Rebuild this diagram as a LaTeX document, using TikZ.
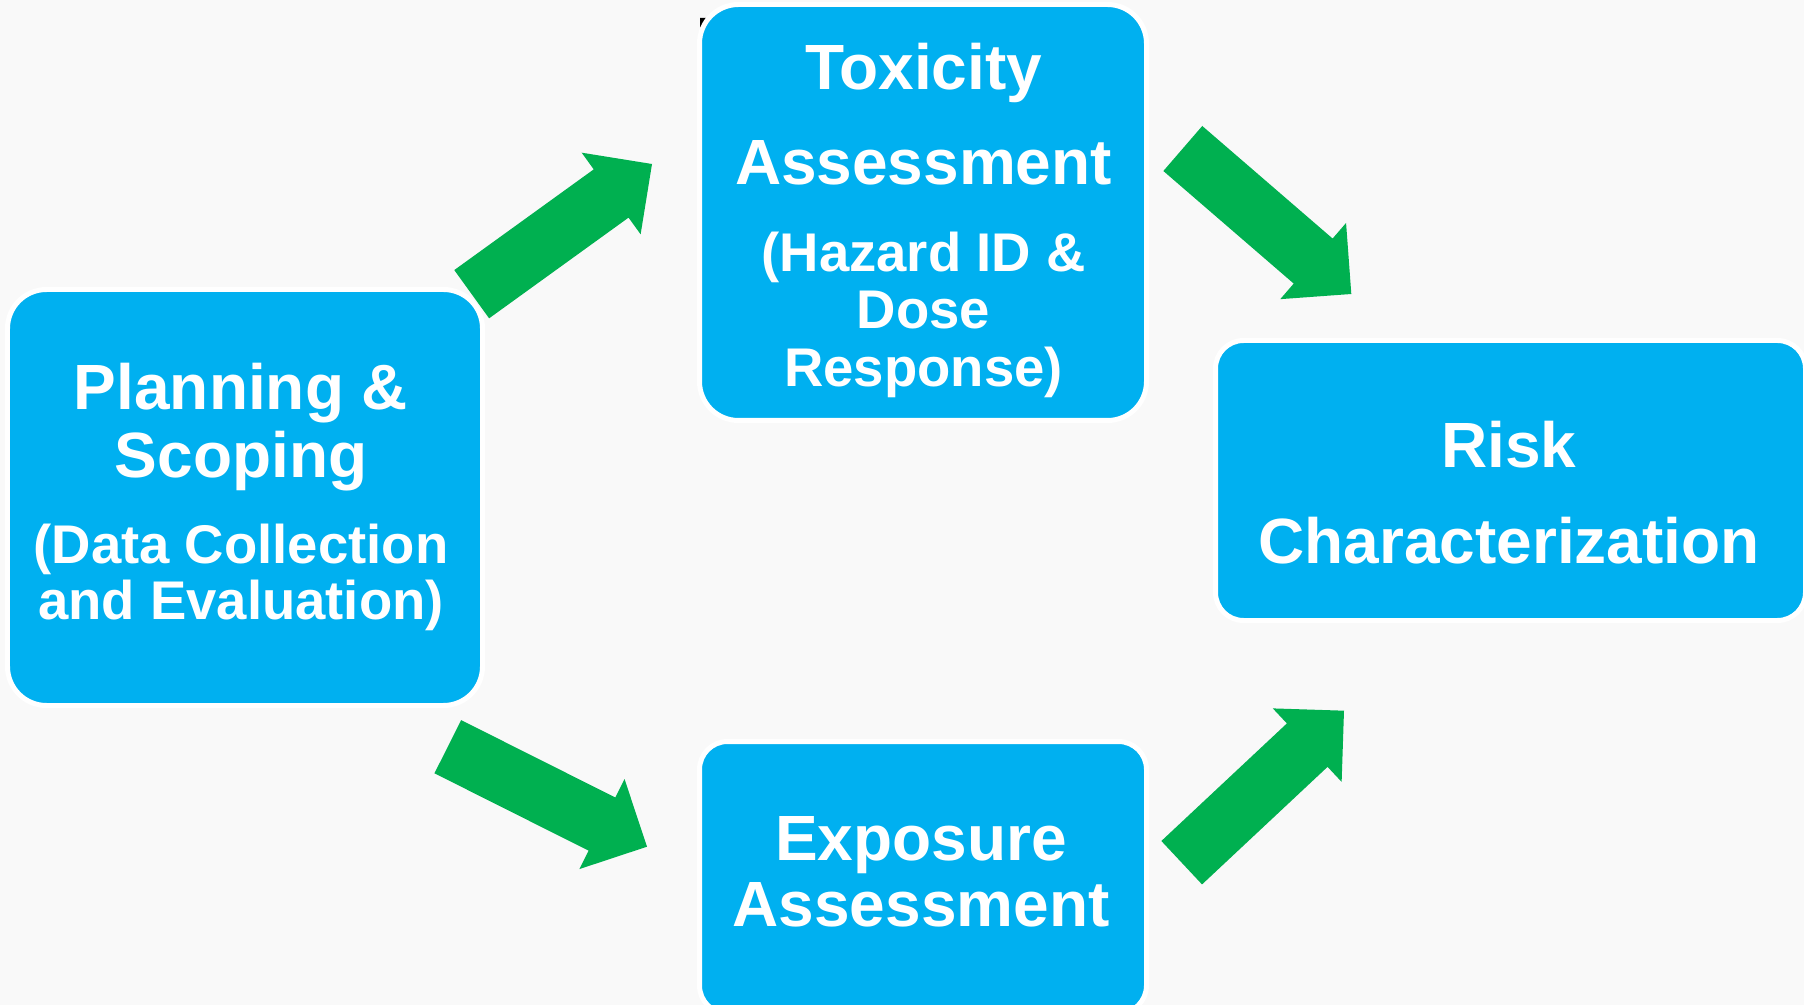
\documentclass[tikz,border=0pt]{standalone}
\usepackage{fontspec}
\setmainfont{Liberation Sans}
\usetikzlibrary{calc}
\definecolor{boxblue}{HTML}{00B0F0}
\definecolor{arrowgreen}{HTML}{00B050}
\definecolor{paper}{HTML}{F9F9F9}
\newcommand\headfont{\fontsize{18.2pt}{0pt}\selectfont\bfseries\lineskiplimit=-\maxdimen\lineskip=0pt\relax}
\newcommand\subfont{\fontsize{15.5pt}{0pt}\selectfont}

\begin{document}
\begin{tikzpicture}[
  stagebox/.style={draw=white,line width=0.05cm,fill=boxblue,inner sep=0pt},
  stagetext/.style={text=white,align=center,inner sep=0pt,font=\headfont},
  flow/.style={fill=arrowgreen,to path={
    ($(\tikztostart)!0.2975cm!90:(\tikztotarget)$)
    -- ($($(\tikztotarget)!0.504cm!(\tikztostart)$)!0.2975cm!90:(\tikztotarget)$)
    -- ($($(\tikztotarget)!0.504cm!(\tikztostart)$)!0.5035cm!90:(\tikztotarget)$)
    -- (\tikztotarget)
    -- ($($(\tikztotarget)!0.504cm!(\tikztostart)$)!0.5035cm!-90:(\tikztotarget)$)
    -- ($($(\tikztotarget)!0.504cm!(\tikztostart)$)!0.2975cm!-90:(\tikztotarget)$)
    -- ($(\tikztostart)!0.2975cm!-90:(\tikztotarget)$) -- cycle}}]
% ---------- 背景 ----------
\fill[paper] (0,0) rectangle (18.04,-10.05);
\useasboundingbox (0,0) rectangle (18.04,-10.05);
\clip (0,0) rectangle (18.04,-10.05);
\fill[black] (7.00,-0.18) -- (7.06,-0.18) -- (7.00,-0.29) -- cycle;
% ---------- 四个阶段框 ----------
\node[stagebox,minimum width=4.75cm,minimum height=4.16cm,rounded corners=0.39cm] (plan) at (2.45,-4.975) {};
\node[stagebox,minimum width=4.47cm,minimum height=4.16cm,rounded corners=0.39cm] (tox) at (9.23,-2.125) {};
\node[stagebox,minimum width=5.90cm,minimum height=2.80cm,rounded corners=0.28cm] (risk) at (15.105,-4.805) {};
\node[stagebox,minimum width=4.47cm,minimum height=2.72cm,rounded corners=0.28cm] (expo) at (9.23,-8.775) {};
% 框内文字
\node[stagetext] (plantext) at (2.41,-4.969)
  {Planning \&\\[0.68cm]Scoping\\[0.867cm]{\subfont (Data Collection}\\[0.56cm]{\subfont and Evaluation)}};
\node[stagetext] (toxtext) at (9.235,-2.203)
  {Toxicity\\[0.957cm]Assessment\\[0.867cm]{\subfont (Hazard ID \&}\\[0.566cm]{\subfont Dose}\\[0.584cm]{\subfont Response)}};
\node[stagetext] (risktext) at (15.09,-4.93) {Risk\\[0.958cm]Characterization};
\node[stagetext] (expotext) at (9.21,-8.716) {Exposure\\[0.66cm]Assessment};
% ---------- 绿色箭头 ----------
\coordinate (plan-tox-a) at (4.717,-2.942);
\coordinate (plan-tox-b) at (6.52,-1.64);
\coordinate (tox-risk-a) at (11.828,-1.485);
\coordinate (tox-risk-b) at (13.513,-2.94);
\coordinate (plan-expo-a) at (4.478,-7.467);
\coordinate (plan-expo-b) at (6.47,-8.467);
\coordinate (expo-risk-a) at (11.817,-8.627);
\coordinate (expo-risk-b) at (13.44,-7.107);
\path[flow] (plan-tox-a) to (plan-tox-b);
\path[flow] (tox-risk-a) to (tox-risk-b);
\path[flow] (plan-expo-a) to (plan-expo-b);
\path[flow] (expo-risk-a) to (expo-risk-b);
\end{tikzpicture}
\end{document}
